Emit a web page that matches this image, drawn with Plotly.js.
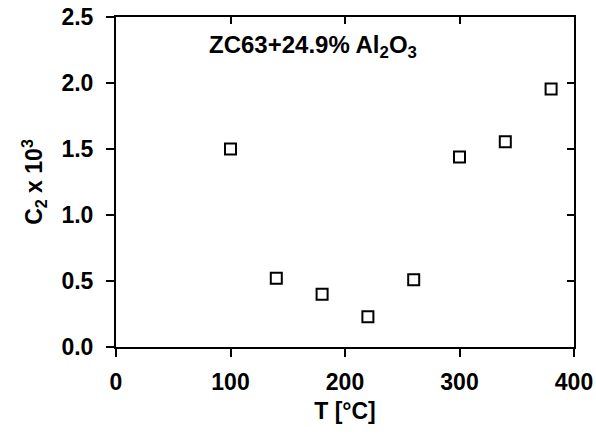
<!DOCTYPE html>
<html>
<head>
<meta charset="utf-8">
<script src="https://cdn.plot.ly/plotly-3.0.1.min.js"></script>
<style>html,body{margin:0;padding:0;background:#fff}#chart{width:596px;height:435px}</style>
</head>
<body>
<div id="chart"></div>
<script>
const temperature = [100, 140, 180, 220, 260, 300, 340, 380];
const c2 = [1.50, 0.52, 0.40, 0.23, 0.51, 1.44, 1.555, 1.955];
const xTicks = [0, 100, 200, 300, 400];
const yTicks = [0.0, 0.5, 1.0, 1.5, 2.0, 2.5];
const yTickText = ["0.0", "0.5", "1.0", "1.5", "2.0", "2.5"];

const font = {family: "Liberation Sans, Arial, sans-serif", color: "#000", size: 23, weight: "bold"};
const noteFont = {family: "Liberation Sans, Arial, sans-serif", color: "#000", size: 24, weight: "bold"};

const traces = [
  {x: temperature, y: c2, type: "scatter", mode: "markers",
   marker: {symbol: "square-open", size: 11, color: "#000", line: {width: 2, color: "#000"}},
   showlegend: false, hoverinfo: "skip"},
  {x: [null], y: [null], xaxis: "x2", yaxis: "y2", type: "scatter", showlegend: false}
];

const layout = {
  width: 596, height: 435,
  margin: {l: 116, r: 22, t: 17, b: 88},
  paper_bgcolor: "#fff", plot_bgcolor: "#fff",
  font: font,
  xaxis: {range: [0, 400], tickvals: xTicks, ticks: "outside", ticklen: 8, tickwidth: 2,
          tickcolor: "#000", showline: true, linewidth: 2, linecolor: "#000",
          showgrid: false, zeroline: false, tickfont: font, ticklabelstandoff: 5,
          title: {text: "T [°C]", font: font, standoff: 9}},
  yaxis: {range: [0, 2.5], tickvals: yTicks, ticktext: yTickText, ticks: "outside", ticklen: 8, tickwidth: 2,
          tickcolor: "#000", showline: true, linewidth: 2, linecolor: "#000",
          showgrid: false, zeroline: false, tickfont: font, ticklabelstandoff: 8,
          title: {text: "C<sub>2</sub> x 10<sup>3</sup>", font: font, standoff: 12}},
  xaxis2: {overlaying: "x", side: "top", range: [0, 400], tickvals: xTicks, ticks: "inside",
           ticklen: 7, tickwidth: 2, tickcolor: "#000", showticklabels: false,
           showline: true, linewidth: 2, linecolor: "#000", showgrid: false, zeroline: false},
  yaxis2: {overlaying: "y", side: "right", range: [0, 2.5], tickvals: yTicks, ticks: "inside",
           ticklen: 7, tickwidth: 2, tickcolor: "#000", showticklabels: false,
           showline: true, linewidth: 2, linecolor: "#000", showgrid: false, zeroline: false},
  annotations: [
    {text: "ZC63+24.9% Al<sub>2</sub>O<sub>3</sub>", xref: "paper", yref: "paper",
     x: 0.198, y: 0.91, xanchor: "left", yanchor: "middle", showarrow: false, font: noteFont}
  ]
};

Plotly.newPlot("chart", traces, layout, {displayModeBar: false, staticPlot: true});
</script>
</body>
</html>
